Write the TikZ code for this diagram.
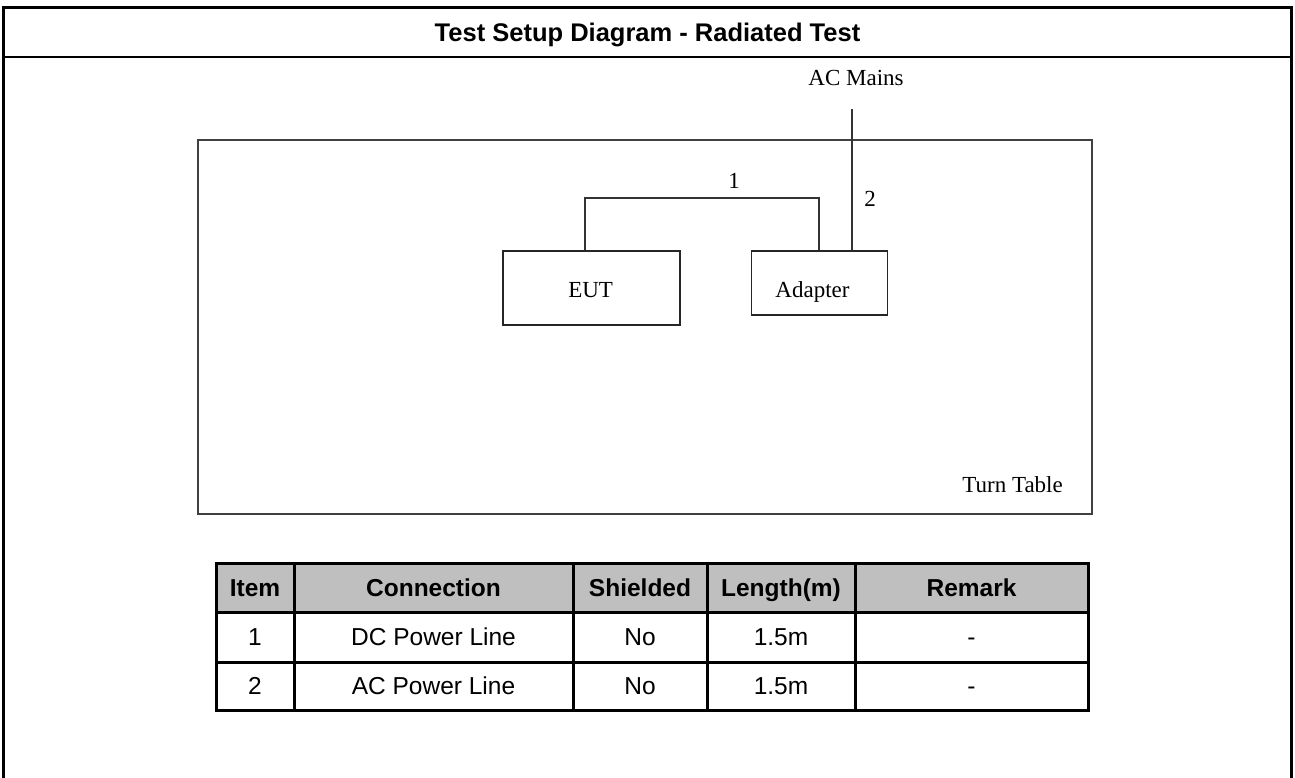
\documentclass[tikz,border=0pt]{standalone}
\usepackage{fontspec}
\setmainfont{Liberation Serif}
\newfontfamily\arialf{Liberation Sans}
\begin{document}
\begin{tikzpicture}[x=1pt,y=-1pt,
  frame/.style={line width=3pt,black},
  sep/.style={line width=2pt,black},
  box/.style={draw=black!85,line width=1.8pt,inner sep=0pt},
  wire/.style={draw=black!80,line width=1.8pt},
  dlabel/.style={font=\fontsize{23}{27}\selectfont,inner sep=0pt,text height=15.2pt,text depth=0pt},
  tgrid/.style={line width=3pt,black},
  thead/.style={font=\arialf\bfseries\fontsize{24.5}{29}\selectfont,inner sep=0pt,text height=17.5pt,text depth=0pt},
  tcell/.style={font=\arialf\fontsize{24.5}{29}\selectfont,inner sep=0pt,text height=17.5pt,text depth=0pt}]
\useasboundingbox (0,0) rectangle (1295,778);
\fill[white] (0,0) rectangle (1295,778);
% outer frame
\draw[frame] (3.5,778) -- (3.5,8) -- (1291.5,8) -- (1291.5,778);
\draw[sep] (3.5,57) -- (1291.5,57);
\node[thead,font=\arialf\bfseries\fontsize{25.5}{30}\selectfont,text height=18.3pt] (title) at (647.5,32.5) {Test Setup Diagram - Radiated Test};
% turn table
\node[draw=black!75,line width=2.6pt,minimum width=894pt,minimum height=374pt,inner sep=0pt] (tt) at (645,327) {};
\node[dlabel,anchor=east] (ttl) at (1063,485) {Turn Table};
% devices
\node[box,minimum width=177pt,minimum height=74pt] (eut) at (591.5,288) {};
\node[dlabel] (eutl) at (590.6,289.5) {EUT};
\node[box,minimum width=136pt,minimum height=64pt] (adp) at (819.5,283) {};
\node[dlabel] (adpl) at (812.5,289.5) {Adapter};
% connections
\coordinate (c1) at (700,198);
\draw[wire] ([xshift=-6.5pt]eut.north) |- (c1) -| ([xshift=-0.5pt]adp.north);
\coordinate (ac) at (851.7,109);
\draw[wire] ([xshift=32.2pt]adp.north) -- (ac);
\node[dlabel] (acl) at (856,77.5) {AC Mains};
\node[dlabel] (l1) at (734,181) {1};
\node[dlabel] (l2) at (870,198.5) {2};
% table
\fill[black!25] (216,563) rectangle (1088,612);
\draw[tgrid] (216,563) rectangle (1088,710);
\draw[tgrid] (216,612) -- (1088,612);
\draw[tgrid] (216,662) -- (1088,662);
\foreach \cx in {294,573,707,855} \draw[tgrid] (\cx,563) -- (\cx,710);
\node[thead] (h1) at (255,587.5) {Item};
\node[thead] (h2) at (433.5,587.5) {Connection};
\node[thead] (h3) at (640,587.5) {Shielded};
\node[thead] (h4) at (781,587.5) {Length(m)};
\node[thead] (h5) at (971.5,587.5) {Remark};
\node[tcell] (a1) at (255,637) {1};
\node[tcell] (a2) at (433.5,637) {DC Power Line};
\node[tcell] (a3) at (640,637) {No};
\node[tcell] (a4) at (781,637) {1.5m};
\node[tcell] (a5) at (971.5,637) {-};
\node[tcell] (b1) at (255,686) {2};
\node[tcell] (b2) at (433.5,686) {AC Power Line};
\node[tcell] (b3) at (640,686) {No};
\node[tcell] (b4) at (781,686) {1.5m};
\node[tcell] (b5) at (971.5,686) {-};
\end{tikzpicture}
\end{document}
